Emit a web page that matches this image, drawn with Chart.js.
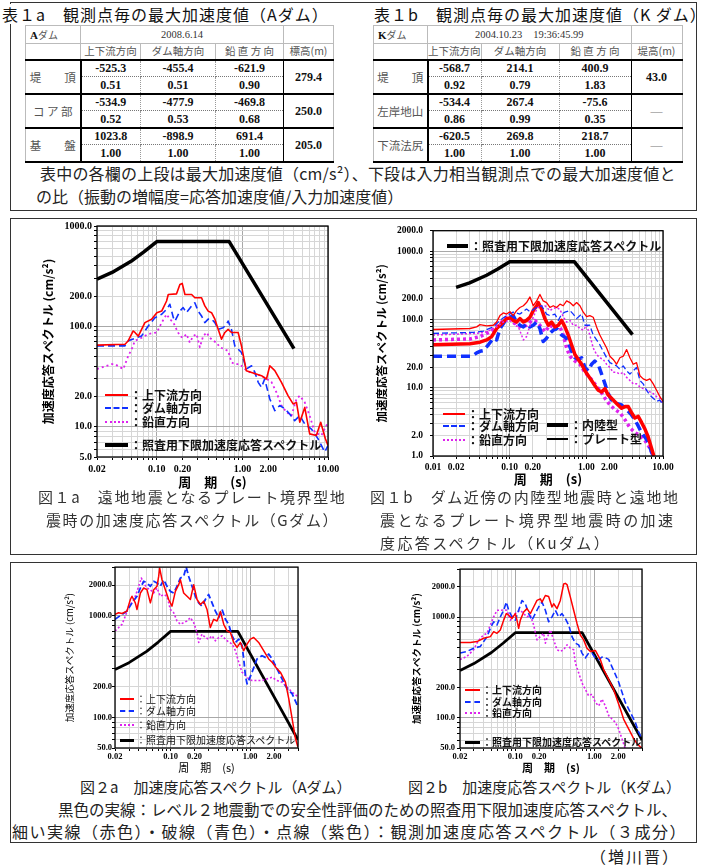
<!DOCTYPE html>
<html lang="ja">
<head>
<meta charset="utf-8">
<title>観測点毎の最大加速度値と加速度応答スペクトル</title>
<script src="https://cdn.jsdelivr.net/npm/chart.js@4.4.1/dist/chart.umd.min.js"></script>
<style>
  html, body { margin: 0; padding: 0; background: #fff; }
  #page { position: relative; width: 705px; height: 866px; overflow: hidden;
          font-family: "Noto Sans CJK JP", sans-serif; color: #222; }
  .abs { position: absolute; white-space: nowrap; }
  .box { position: absolute; border: 1.5px solid #333; box-sizing: border-box; }
  .ttl { background: #fff; font-size: 16px; line-height: 20px; color: #111; letter-spacing: 1px; padding-right: 3px; }
  .cap { font-size: 15px; line-height: 20px; color: #333; }
  canvas { position: absolute; }
  table.obs { position: absolute; border-collapse: collapse; table-layout: fixed; }
  table.obs td { padding: 0; text-align: center; vertical-align: middle; overflow: hidden; white-space: nowrap; }
  table.obs td.h { border: 1px solid #bbb; font-size: 10.5px; line-height: 14px; color: #555; }
  table.obs tr.hd2 td { border-bottom: 2px solid #000; }
  table.obs td.name { text-align: left; padding-left: 4px; font-size: 10px; }
  table.obs td.name b { font: bold 11px "Liberation Serif", serif; color: #111; }
  table.obs td.date { font: 10.5px "Liberation Serif", serif; color: #333; }
  table.obs td.lab { border-left: 1px solid #bbb; border-right: 2px solid #000; border-bottom: 2px solid #000;
                     font-size: 11.5px; color: #555; }
  table.obs td.num { font: bold 12px "Liberation Serif", serif; color: #111; line-height: 14px; }
  table.obs td.up { border-left: 1px dotted #999; border-right: 1px dotted #999; border-bottom: 1px dotted #777; }
  table.obs td.lo { border-left: 1px dotted #999; border-right: 1px dotted #999; border-bottom: 2px solid #000; }
  table.obs td.last { border-left: 1px solid #000; border-right: 1px solid #bbb; border-bottom: 2px solid #000; }
  table.obs td.dash { color: #777; font-weight: normal; }
</style>
</head>
<body>
<div id="page">
  <div class="box" style="left:10px;top:2px;width:687px;height:209px"></div>
  <div class="box" style="left:10px;top:218px;width:687px;height:337px"></div>
  <div class="box" style="left:10px;top:562px;width:687px;height:281px"></div>
  <canvas id="fig1a" width="320" height="277" style="left:30px;top:218px"></canvas>
  <canvas id="fig1b" width="310" height="277" style="left:370px;top:218px"></canvas>
  <canvas id="fig2a" width="280" height="212" style="left:40px;top:562px"></canvas>
  <canvas id="fig2b" width="280" height="212" style="left:385px;top:562px"></canvas>
</div>
<script>
// ---- 表1a / 表1b : 観測点毎の最大加速度値 ----
const compCols = ['上下流方向', 'ダム軸方向', '鉛 直 方 向'];

const tableARows = ['堤　　頂', 'コ ア 部', '基　　盤'];
const tableAPeak = [[-525.3, -455.4, -621.9], [-534.9, -477.9, -469.8], [1023.8, -898.9, 691.4]];
const tableARatio = [[0.51, 0.51, 0.90], [0.52, 0.53, 0.68], [1.00, 1.00, 1.00]];
const tableAElev = ['279.4', '250.0', '205.0'];

const tableBRows = ['堤　　頂', '左岸地山', '下流法尻'];
const tableBPeak = [[-568.7, 214.1, 400.9], [-534.4, 267.4, -75.6], [-620.5, 269.8, 218.7]];
const tableBRatio = [[0.92, 0.79, 1.83], [0.86, 0.99, 0.35], [1.00, 1.00, 1.00]];
const tableBHeight = ['43.0', '—', '—'];

// ---- 照査用下限加速度応答スペクトル (周期 s, cm/s2) ----
const lowerLimitT = [0.02, 0.03, 0.05, 0.07, 0.1, 0.7, 4.0];
const lowerLimitSa = [295, 345, 445, 550, 700, 700, 60];

// ---- 図1a Gダム [周期, 加速度応答] ----
const fig1aRed = [[0.02,65],[0.0425,66.5],[0.0464,72],[0.053,90],[0.0555,87],[0.0607,80],[0.0726,109],[0.0869,118],[0.1,137],[0.114,142],[0.13,179],[0.136,208],[0.17,211],[0.186,262],[0.198,268],[0.213,208],[0.255,208],[0.278,193],[0.333,193],[0.364,160],[0.398,142],[0.436,137],[0.477,118],[0.521,93.5],[0.57,74.5],[0.624,87],[0.681,93.5],[0.745,87],[0.891,87],[0.975,64],[1.11,36.2],[1.28,34.8],[1.67,32.3],[1.91,29.9],[2.09,40.5],[2.39,36.2],[2.86,27.7],[3.41,20.4],[3.91,16.9],[4.28,17.5],[4.68,11.1],[5.35,15.6],[6.11,8.5],[7.31,8.2],[8.22,11.1],[9.32,7.6],[10,6.5]];
const fig1aBlue = [[0.02,64],[0.0425,64],[0.0464,71.8],[0.0555,76],[0.0664,80.4],[0.0794,101],[0.095,122],[0.114,132],[0.13,148],[0.142,166],[0.156,122],[0.163,113],[0.186,142],[0.203,154],[0.222,137],[0.255,160],[0.278,172],[0.304,142],[0.333,127],[0.364,109],[0.398,118],[0.436,118],[0.477,109],[0.521,93.5],[0.596,97],[0.652,105],[0.681,113],[0.745,93.5],[0.815,64],[0.891,59.3],[0.975,55],[1.11,37.6],[1.28,40.5],[1.4,34.8],[1.53,27.7],[1.67,24.7],[1.82,29.9],[2.09,18.9],[2.39,14.5],[2.73,16.3],[3.13,15.1],[3.57,13.4],[4.08,11.5],[4.68,12.9],[5.35,10.7],[6.4,9.5],[7.65,7.6],[9.15,5.6],[10,6.5]];
const fig1aViolet = [[0.02,37.6],[0.0297,42],[0.0324,42],[0.0406,37.6],[0.0464,51],[0.0508,59],[0.0555,72],[0.0664,77],[0.0794,84],[0.1,87],[0.114,109],[0.13,132],[0.142,118],[0.156,109],[0.17,93.5],[0.186,80],[0.203,77],[0.222,84],[0.243,69],[0.266,80],[0.291,84],[0.318,62],[0.348,80],[0.381,87],[0.417,77],[0.455,72],[0.498,69],[0.545,62],[0.624,59],[0.681,57],[0.745,44],[0.815,42],[0.93,42],[1.07,37.6],[1.22,35],[1.46,33.5],[1.67,32],[1.91,30],[2.18,28],[2.5,22],[2.86,16.3],[3.27,14],[3.74,12.9],[4.28,18.9],[4.68,20.4],[5.35,17.5],[6.11,12.9],[7,8.8],[8.37,8.2],[10,11.1]];

// ---- 図1b Kuダム : プレート型 (細線) ----
const fig1bRedPlate = [[0.01,71.3],[0.0304,73.8],[0.0371,77.9],[0.041,84.1],[0.0501,80.5],[0.0612,82.3],[0.0676,91.8],[0.0747,114],[0.0826,125],[0.0913,120],[0.101,130],[0.111,114],[0.123,135],[0.136,150],[0.151,159],[0.166,177],[0.184,214],[0.203,159],[0.225,187],[0.248,233],[0.274,187],[0.303,177],[0.335,150],[0.37,159],[0.41,150],[0.453,168],[0.5,159],[0.553,187],[0.611,177],[0.675,159],[0.747,177],[0.825,159],[0.912,128],[1.008,110],[1.11,114],[1.23,108],[1.36,77.9],[1.5,59.2],[1.66,47.6],[1.84,38.2],[2.03,29],[2.24,26],[2.48,22.1],[2.74,27.5],[3.03,29],[3.35,36.2],[3.7,27.5],[4.09,22.1],[4.52,23.3],[5,15],[5.52,13.5],[6.1,12.8],[6.75,13.5],[7.46,11.4],[8.24,9.2],[9.11,7.4],[10,6.3]];
const fig1bBluePlate = [[0.01,62.6],[0.0336,64.7],[0.0453,67.6],[0.0612,77.9],[0.0747,97],[0.0913,114],[0.111,128],[0.136,120],[0.166,142],[0.184,130],[0.225,150],[0.261,159],[0.303,120],[0.335,114],[0.389,120],[0.431,97],[0.476,120],[0.526,128],[0.611,135],[0.675,120],[0.747,103],[0.868,120],[0.959,82.3],[1.11,82.3],[1.23,59.2],[1.36,50.2],[1.5,42.6],[1.66,34.2],[1.84,27.5],[2.03,23.3],[2.24,22.1],[2.48,20.9],[2.74,18.7],[3.03,20.9],[3.35,17.7],[3.7,15.9],[4.09,17.7],[4.52,19.8],[5,12.8],[5.52,11.4],[6.1,9.2],[6.75,7.8],[7.46,7],[8.24,6.3],[9.11,6.6],[10,5.6]];
const fig1bVioletPlate = [[0.01,59.2],[0.0371,62.6],[0.0501,66.1],[0.0676,77.9],[0.0826,91.8],[0.101,97],[0.117,82.3],[0.13,77.9],[0.151,50.2],[0.166,56.1],[0.184,82.3],[0.225,142],[0.248,159],[0.288,159],[0.335,135],[0.37,145],[0.41,150],[0.453,140],[0.5,110],[0.553,91.8],[0.611,97],[0.675,82.3],[0.747,82.3],[0.825,73.8],[0.912,69.8],[1.008,82.3],[1.11,59.2],[1.23,38.2],[1.36,30.7],[1.5,27.5],[1.66,26],[1.84,22.1],[2.03,19.8],[2.24,16.8],[2.48,16.8],[2.74,15.9],[3.03,16.8],[3.35,14.2],[3.7,12.8],[4.09,11.4],[4.52,11.4],[5,10.3],[5.52,9.7],[6.1,9.2],[6.75,8.7],[7.46,8.2],[8.24,7.4],[9.11,7],[10,5.9]];

// ---- 図1b Kuダム : 内陸型 (太線) ----
const fig1bRedInland = [[0.01,42.6],[0.0304,44.1],[0.041,46.5],[0.0501,50.2],[0.0582,56.1],[0.0676,73.8],[0.0747,82.3],[0.0826,91.8],[0.0913,103],[0.101,105],[0.111,97],[0.123,91.8],[0.136,103],[0.151,91.8],[0.166,97],[0.184,108],[0.203,135],[0.225,159],[0.236,177],[0.261,142],[0.288,103],[0.319,82.3],[0.352,91.8],[0.389,77.9],[0.431,82.3],[0.476,97],[0.526,77.9],[0.581,59.2],[0.642,42.6],[0.71,30.7],[0.785,26],[0.868,22.1],[0.959,17.7],[1.06,15],[1.17,12.8],[1.29,10.8],[1.43,9.2],[1.58,8.7],[1.75,9.7],[1.93,7.8],[2.13,7],[2.48,5.9],[2.88,5],[3.19,5.3],[3.52,5.3],[3.89,4.3],[4.3,3.6],[4.75,3.8],[5.25,3.1],[5.8,2.5],[6.41,1.9],[7.09,1.3],[7.6,1]];
const fig1bBlueInland = [[0.01,29],[0.0304,29],[0.0336,30],[0.0371,32.4],[0.041,34.2],[0.0453,35],[0.0527,42.6],[0.0612,53.1],[0.0676,50.2],[0.0747,73.8],[0.0826,86.9],[0.0913,103],[0.101,108],[0.111,114],[0.123,91.8],[0.136,82.3],[0.151,77.9],[0.166,86.9],[0.184,77.9],[0.203,82.3],[0.225,91.8],[0.248,73.8],[0.274,47.6],[0.303,53.1],[0.335,62.6],[0.37,69.8],[0.41,73.8],[0.476,59.2],[0.553,53.1],[0.642,34.2],[0.71,27.5],[0.785,26],[0.868,27.5],[0.959,19.8],[1.06,17.7],[1.17,22.1],[1.29,24.6],[1.43,22.1],[1.58,15.9],[1.75,11.4],[1.93,8.2],[2.13,6.6],[2.48,5.9],[2.88,5.6],[3.35,4.8],[3.89,4],[4.3,3.4],[4.75,2.75],[5.25,2.2],[5.8,1.9],[6.41,1.6],[7.09,1.14],[7.46,1]];
const fig1bVioletInland = [[0.01,50.2],[0.0304,51.9],[0.041,56.1],[0.0553,66.1],[0.0676,77.9],[0.0786,91.8],[0.0913,108],[0.106,103],[0.123,82.3],[0.143,77.9],[0.166,82.3],[0.184,91.8],[0.214,97],[0.248,82.3],[0.288,66.1],[0.335,82.3],[0.389,73.8],[0.453,77.9],[0.5,59.2],[0.553,38.2],[0.611,29],[0.71,24.6],[0.825,22.1],[0.959,16.8],[1.11,14.2],[1.29,11.4],[1.5,9.2],[1.75,7],[2.03,5.6],[2.36,4.8],[2.74,4.3],[3.19,3.4],[3.7,2.6],[4.3,2.2],[5,2],[5.8,1.7],[6.75,1.3],[7.46,1]];

// ---- 図2a Aダム ----
const fig2aRed = [[0.02,1029],[0.0222,1068],[0.0245,1050],[0.0283,1109],[0.0312,1441],[0.0327,1550],[0.036,1335],[0.0378,1150],[0.0417,1670],[0.0459,1868],[0.0505,1800],[0.0557,1335],[0.0613,1800],[0.0675,1944],[0.0708,2428],[0.0729,2933],[0.078,2253],[0.0859,1800],[0.0946,1441],[0.1042,1239],[0.1148,1733],[0.1264,2017],[0.1327,2253],[0.146,1670],[0.161,1550],[0.1773,1441],[0.1953,2017],[0.215,1441],[0.237,1286],[0.261,1388],[0.287,1150],[0.316,763],[0.348,920],[0.384,886],[0.423,1100],[0.466,822],[0.513,708],[0.565,682],[0.622,545],[0.685,488],[0.754,545],[0.831,452],[0.915,525],[1.008,588],[1.11,610],[1.28,545],[1.48,452],[1.71,375],[1.89,348],[2.18,300],[2.4,278],[2.78,222],[3.06,153],[3.37,97.6],[3.71,62.3],[3.98,51.5]];
const fig2aBlue = [[0.02,920],[0.0245,1029],[0.0283,1109],[0.0327,1335],[0.0378,1550],[0.0417,1868],[0.0459,2175],[0.0505,2090],[0.0557,1944],[0.0613,2175],[0.0675,2090],[0.0743,1944],[0.0819,2253],[0.0902,1944],[0.0993,1733],[0.1094,1670],[0.1205,1944],[0.1327,2344],[0.146,2428],[0.157,3000],[0.169,2428],[0.186,1944],[0.2049,1550],[0.2256,1335],[0.248,1239],[0.2735,1441],[0.301,1612],[0.332,1335],[0.366,1109],[0.403,955],[0.444,1150],[0.489,920],[0.538,822],[0.593,633],[0.653,545],[0.719,588],[0.792,506],[0.831,375],[0.872,258],[0.915,214],[0.96,230],[1.057,278],[1.22,375],[1.41,404],[1.556,389],[1.71,419],[1.89,375],[2.18,300],[2.52,239],[2.92,191],[3.37,171],[3.98,128]];
const fig2aViolet = [[0.02,708],[0.0222,763],[0.0245,822],[0.027,990],[0.0297,1239],[0.0327,1335],[0.036,1550],[0.0397,1944],[0.0429,2344],[0.0459,2090],[0.0505,1868],[0.0557,1800],[0.0613,1670],[0.0675,1868],[0.0743,1550],[0.0819,1612],[0.0902,1550],[0.0993,1150],[0.1094,1068],[0.1205,886],[0.1327,822],[0.146,853],[0.161,886],[0.1773,955],[0.1953,853],[0.215,682],[0.2256,545],[0.248,657],[0.2735,610],[0.301,588],[0.332,633],[0.366,566],[0.403,610],[0.444,633],[0.513,566],[0.593,525],[0.653,452],[0.719,348],[0.792,278],[0.872,258],[0.96,239],[1.057,230],[1.22,230],[1.41,230],[1.63,239],[1.89,248],[2.18,230],[2.52,222],[2.92,198],[3.37,177],[3.98,160]];

// ---- 図2b Kダム ----
const fig2bRed = [[0.02,558],[0.027,558],[0.0328,571],[0.0398,616],[0.0484,640],[0.0533,716],[0.0587,690],[0.0647,745],[0.0713,933],[0.077,1084],[0.0825,1044],[0.0908,968],[0.1001,1084],[0.105,933],[0.1103,773],[0.1158,933],[0.1276,1126],[0.1406,1215],[0.155,1084],[0.1708,1260],[0.188,1464],[0.2073,1520],[0.2177,1411],[0.24,1639],[0.264,1603],[0.291,1260],[0.3057,1358],[0.3368,1215],[0.371,1464],[0.409,2134],[0.429,2166],[0.451,2107],[0.497,1578],[0.547,1169],[0.603,866],[0.664,664],[0.732,594],[0.806,491],[0.889,456],[1.028,466],[1.189,378],[1.31,301],[1.443,259],[1.59,222],[1.75,191],[1.93,153],[2.13,122],[2.34,97],[2.58,83.5],[2.85,71.8],[3.14,61.8],[3.46,55.2],[4,49.3]];
const fig2bBlue = [[0.02,439],[0.0245,456],[0.0298,491],[0.0361,510],[0.0398,571],[0.0439,640],[0.0484,773],[0.0533,899],[0.0587,834],[0.0647,1006],[0.0713,1169],[0.077,1411],[0.0825,1169],[0.0908,1006],[0.1001,933],[0.1103,1169],[0.1216,1464],[0.134,1358],[0.1476,1084],[0.1626,933],[0.179,1084],[0.1975,1260],[0.2177,1411],[0.24,1169],[0.264,899],[0.291,1006],[0.3208,1169],[0.3535,1006],[0.3896,1084],[0.429,968],[0.473,834],[0.521,640],[0.574,551],[0.633,530],[0.697,439],[0.768,392],[0.847,439],[0.933,439],[1.028,392],[1.133,378],[1.248,400],[1.375,395],[1.516,380],[1.67,320],[1.84,270],[2.03,225],[2.23,180],[2.46,142],[2.85,113],[3.29,90],[3.63,71.8],[4,61.8]];
const fig2bViolet = [[0.02,378],[0.0245,407],[0.0298,474],[0.0328,551],[0.0361,616],[0.0398,664],[0.0439,690],[0.0484,834],[0.0533,1006],[0.0587,1169],[0.0647,1169],[0.0713,1180],[0.0786,1169],[0.0866,933],[0.0954,1044],[0.105,1126],[0.1158,1169],[0.1276,1084],[0.1406,1006],[0.155,1044],[0.1708,834],[0.188,594],[0.2073,640],[0.2284,690],[0.24,551],[0.2517,616],[0.2774,745],[0.3057,594],[0.3368,474],[0.371,456],[0.409,474],[0.451,530],[0.497,491],[0.547,474],[0.574,350],[0.633,279],[0.697,222],[0.768,191],[0.847,165],[0.933,171],[1.028,142],[1.133,131],[1.248,153],[1.375,131],[1.516,105],[1.67,97],[1.84,90],[2.03,77],[2.23,62],[2.46,49]];

// ---- labelled ticks ----
const fig1aXTicks = [0.02, 0.1, 0.2, 1, 2, 10];
const fig1aYTicks = [5, 10, 20, 100, 200, 1000];
const fig1bXTicks = [0.01, 0.02, 0.1, 0.2, 1, 2, 10];
const fig1bYTicks = [1, 2, 10, 20, 100, 200, 1000, 2000];
const fig2XTicks = [0.02, 0.1, 0.2, 1, 2];
const fig2YTicks = [50, 100, 200, 1000, 2000];

const compLabels = ['：上下流方向', '：ダム軸方向', '：鉛直方向'];
const limitLabel = '：照査用下限加速度応答スペクトル';

const page = document.getElementById('page');
const JP = '"Noto Sans CJK JP", sans-serif';
const SERIF = '"Liberation Serif", serif';
const RED = '#ff0000', BLUE = '#1030ff', VIOLET = '#dd22ee';

function put(str, x, y, css) {
  const d = document.createElement('div');
  d.className = 'abs';
  d.textContent = str;
  d.style.cssText += `left:${x}px;top:${y}px;` + (css || '');
  page.appendChild(d);
  return d;
}

function buildTable(o) {
  const t = document.createElement('table');
  t.className = 'obs';
  t.style.left = o.x + 'px';
  t.style.top = o.y + 'px';
  let h = '<colgroup>' + o.widths.map(w => `<col style="width:${w}px">`).join('') + '</colgroup>';
  h += `<tr style="height:18px"><td class="h name"><b>${o.dam[0]}</b>${o.dam.slice(1)}</td>` +
       `<td class="h date" colspan="3">${o.date}</td><td class="h"></td></tr>`;
  h += '<tr class="hd2" style="height:16px"><td class="h"></td>' +
       compCols.map(c => `<td class="h">${c}</td>`).join('') + `<td class="h">${o.lastHead}</td></tr>`;
  o.rows.forEach((r, i) => {
    const dash = o.last[i] === '—' ? ' dash' : '';
    h += `<tr style="height:17px"><td class="lab" rowspan="2">${r}</td>` +
         o.peak[i].map(v => `<td class="num up">${v.toFixed(1)}</td>`).join('') +
         `<td class="num last${dash}" rowspan="2">${o.last[i]}</td></tr>`;
    h += '<tr style="height:17px">' + o.ratio[i].map(v => `<td class="num lo">${v.toFixed(2)}</td>`).join('') + '</tr>';
  });
  t.innerHTML = h;
  page.appendChild(t);
}

buildTable({x: 25, y: 25, widths: [55, 60, 75, 68, 50], dam: 'Aダム', date: '2008.6.14',
  lastHead: '標高(m)', rows: tableARows, peak: tableAPeak, ratio: tableARatio, last: tableAElev});
buildTable({x: 373, y: 25, widths: [54, 50, 78, 72, 51], dam: 'Kダム', date: '2004.10.23　19:36:45.99',
  lastHead: '堤高(m)', rows: tableBRows, peak: tableBPeak, ratio: tableBRatio, last: tableBHeight});

put('表１a　観測点毎の最大加速度値（Aダム）', 0, 4, 'font-size:16px;line-height:20px;letter-spacing:1px;background:#fff;padding:0 3px 0 2px;color:#111');
put('表１b　観測点毎の最大加速度値（K ダム）', 374, 4, 'font-size:16px;line-height:20px;letter-spacing:1px;color:#111');
put('表中の各欄の上段は最大加速度値（cm/s²）、下段は入力相当観測点での最大加速度値と', 40, 163, 'font-size:16px;line-height:20px;color:#222;letter-spacing:0.2px');
put('の比（振動の増幅度=応答加速度値/入力加速度値）', 36, 186, 'font-size:16px;line-height:20px;color:#222');

const capCss = 'font-size:15px;line-height:20px;color:#333;letter-spacing:1.6px';
put('図１a　遠地地震となるプレート境界型地', 38, 487, capCss);
put('震時の加速度応答スペクトル（Gダム）', 46, 510, capCss);
put('図１b　ダム近傍の内陸型地震時と遠地地', 370, 487, capCss);
put('震となるプレート境界型地震時の加速', 380, 510, 'font-size:15px;line-height:20px;color:#333;letter-spacing:2.4px');
put('度応答スペクトル（Kuダム）', 380, 533, 'font-size:15px;line-height:20px;color:#333;letter-spacing:2.4px');

put('図２a　加速度応答スペクトル（Aダム）', 80, 777, 'font-size:15px;line-height:20px;color:#222');
put('図２b　加速度応答スペクトル（Kダム）', 408, 777, 'font-size:15px;line-height:20px;color:#222');
put('黒色の実線：レベル２地震動での安全性評価のための照査用下限加速度応答スペクトル、', 58, 799, 'font-size:15.5px;line-height:20px;color:#222');
put('細い実線（赤色）・破線（青色）・点線（紫色）：観測加速度応答スペクトル（３成分）', 12, 821, 'font-size:16px;line-height:20px;color:#222;letter-spacing:1.5px');
put('（増川晋）', 590, 846, 'font-size:16px;line-height:20px;color:#222;letter-spacing:2px');

// legend entry drawn as page text next to a short sample stroke
function legendRow(x1, x2, y, color, w, style, label, font) {
  const l = document.createElement('div');
  l.className = 'abs';
  l.style.cssText = `left:${x1}px;top:${Math.round(y - w / 2)}px;width:${x2 - x1}px;height:0;border-top:${w}px ${style} ${color};`;
  page.appendChild(l);
  put(label, x2 + 2, y - 8, `font:${font};line-height:16px;color:#111`);
}

const compStyles = [[RED, 'solid'], [BLUE, 'dashed'], [VIOLET, 'dotted']];
[395, 408, 422].forEach((y, i) => legendRow(105, 128, y, compStyles[i][0], 2, compStyles[i][1], compLabels[i], `bold 12px ${JP}`));
legendRow(105, 128, 445, '#000', 4, 'solid', limitLabel, `bold 12px ${JP}`);

legendRow(447, 468, 246, '#000', 4, 'solid', limitLabel, `bold 12px ${JP}`);
[414, 426, 440].forEach((y, i) => legendRow(443, 465, y, compStyles[i][0], 2, compStyles[i][1], compLabels[i], `bold 12px ${JP}`));
legendRow(547, 568, 425, '#000', 4, 'solid', '：内陸型', `bold 12px ${JP}`);
legendRow(547, 568, 439, '#000', 2, 'solid', '：プレート型', `bold 12px ${JP}`);

[699, 711, 725].forEach((y, i) => legendRow(120, 134, y, compStyles[i][0], 2, compStyles[i][1], compLabels[i], `10px ${JP}`));
legendRow(120, 134, 740, '#000', 3, 'solid', limitLabel, `10px ${JP}`);
[690, 702, 713].forEach((y, i) => legendRow(465, 480, y, compStyles[i][0], 2, compStyles[i][1], compLabels[i], `bold 10px ${JP}`));
legendRow(465, 480, 742, '#000', 3, 'solid', limitLabel, `bold 10px ${JP}`);

// ---- charts ----
function logTicks(min, max) {
  const out = [];
  for (let e = Math.floor(Math.log10(min)); e <= Math.ceil(Math.log10(max)); e++) {
    for (let m = 1; m < 10; m++) {
      const v = +(m * Math.pow(10, e)).toPrecision(6);
      if (v >= min * 0.999 && v <= max * 1.001) out.push({value: v});
    }
  }
  return out;
}
const isDecade = v => Math.abs(Math.log10(v) - Math.round(Math.log10(v))) < 1e-6;
const labelFor = (v, list, dec) => list.some(t => Math.abs(t - v) / t < 1e-6) ? v.toFixed(dec) : '';
const gridColor = c => (c.tick && isDecade(c.tick.value)) ? '#a8a8a8' : '#d6d6d6';

const framePlugin = {
  id: 'frame',
  afterDraw(chart) {
    const {ctx, chartArea: a} = chart;
    ctx.save();
    ctx.strokeStyle = '#000';
    ctx.lineWidth = 1.3;
    ctx.strokeRect(a.left, a.top, a.right - a.left, a.bottom - a.top);
    ctx.restore();
  }
};

const pts = arr => arr.map(([x, y]) => ({x, y}));
const lowerLimit = lowerLimitT.map((t, i) => [t, lowerLimitSa[i]]);

function spectrumChart(id, o) {
  return new Chart(document.getElementById(id), {
    type: 'scatter',
    data: {
      datasets: o.series.map(s => ({
        data: pts(s.data), showLine: true, pointRadius: 0, tension: 0, fill: false,
        borderColor: s.color, borderWidth: s.width, borderDash: s.dash || [],
        borderCapStyle: 'butt', borderJoinStyle: 'round'
      }))
    },
    options: {
      responsive: false, animation: false, devicePixelRatio: 1,
      layout: {padding: o.pad},
      plugins: {legend: {display: false}, tooltip: {enabled: false}},
      scales: {
        x: {
          type: 'logarithmic', min: o.xMin, max: o.xMax,
          afterBuildTicks: s => { s.ticks = logTicks(o.xMin, o.xMax); },
          afterFit: s => { s.height = o.xH; },
          border: {display: false},
          grid: {color: gridColor, tickLength: 3, tickColor: '#000'},
          ticks: {autoSkip: false, maxRotation: 0, padding: o.xTickPad, color: '#000',
                  font: o.tickFont, callback: v => labelFor(v, o.xLabels, 2)},
          title: {display: true, text: '周　期　(s)', color: '#000', font: o.xTitleFont,
                  padding: {top: 0, bottom: o.xTitlePad}}
        },
        y: {
          type: 'logarithmic', min: o.yMin, max: o.yMax,
          afterBuildTicks: s => { s.ticks = logTicks(o.yMin, o.yMax); },
          afterFit: s => { s.width = o.yW; },
          border: {display: false},
          grid: {color: gridColor, tickLength: 3, tickColor: '#000'},
          ticks: {autoSkip: false, padding: o.yTickPad, color: '#000',
                  font: o.tickFont, callback: v => labelFor(v, o.yLabels, 1)},
          title: {display: true, text: '加速度応答スペクトル (cm/s²)', color: '#000', font: o.yTitleFont,
                  padding: {top: o.yTitlePad, bottom: 0}}
        }
      }
    },
    plugins: [framePlugin]
  });
}

spectrumChart('fig1a', {
  xMin: 0.02, xMax: 10, yMin: 5, yMax: 1000, xLabels: fig1aXTicks, yLabels: fig1aYTicks,
  pad: {left: 0, top: 7, right: 22, bottom: 0}, xH: 38, yW: 67,
  tickFont: {family: SERIF, size: 10, weight: 'bold'}, xTickPad: 3, yTickPad: 2,
  xTitleFont: {family: JP, size: 13, weight: 'bold'}, xTitlePad: 5,
  yTitleFont: {family: JP, size: 12, weight: 'bold'}, yTitlePad: 11,
  series: [
    {data: fig1aRed, color: RED, width: 1.6},
    {data: fig1aBlue, color: BLUE, width: 1.6, dash: [7, 4]},
    {data: fig1aViolet, color: VIOLET, width: 1.8, dash: [2, 3]},
    {data: lowerLimit, color: '#000', width: 3.5}
  ]
});

spectrumChart('fig1b', {
  xMin: 0.01, xMax: 10, yMin: 1, yMax: 2000, xLabels: fig1bXTicks, yLabels: fig1bYTicks,
  pad: {left: 0, top: 7, right: 17, bottom: 0}, xH: 39, yW: 63,
  tickFont: {family: SERIF, size: 9.5, weight: 'bold'}, xTickPad: 3, yTickPad: 7,
  xTitleFont: {family: JP, size: 13, weight: 'bold'}, xTitlePad: 8,
  yTitleFont: {family: JP, size: 11.5, weight: 'bold'}, yTitlePad: 5,
  series: [
    {data: fig1bRedPlate, color: RED, width: 1.3},
    {data: fig1bBluePlate, color: BLUE, width: 1.3, dash: [6, 3]},
    {data: fig1bVioletPlate, color: VIOLET, width: 1.5, dash: [2, 2]},
    {data: fig1bRedInland, color: RED, width: 3.5},
    {data: fig1bBlueInland, color: BLUE, width: 3.5, dash: [9, 5]},
    {data: fig1bVioletInland, color: VIOLET, width: 3.5, dash: [3, 3]},
    {data: lowerLimit, color: '#000', width: 3.5}
  ]
});

const fig2Common = {
  xMin: 0.02, xMax: 4, yMin: 50, yMax: 3000, xLabels: fig2XTicks, yLabels: fig2YTicks,
  xH: 26, yW: 75, tickFont: {family: SERIF, size: 8.5, weight: 'bold'}, xTickPad: 1,
  xTitlePad: 0
};

spectrumChart('fig2a', Object.assign({}, fig2Common, {
  pad: {left: 0, top: 4, right: 22, bottom: 0}, yTickPad: 0,
  xTitleFont: {family: JP, size: 11}, yTitleFont: {family: JP, size: 9.5}, yTitlePad: 24,
  series: [
    {data: fig2aRed, color: RED, width: 1.5},
    {data: fig2aBlue, color: BLUE, width: 1.8, dash: [6, 3]},
    {data: fig2aViolet, color: VIOLET, width: 1.6, dash: [2, 2]},
    {data: lowerLimit, color: '#000', width: 2.8}
  ]
}));

spectrumChart('fig2b', Object.assign({}, fig2Common, {
  pad: {left: 0, top: 5, right: 23, bottom: 0}, yTickPad: 2,
  xTitleFont: {family: JP, size: 11, weight: 'bold'}, yTitleFont: {family: JP, size: 9.5, weight: 'bold'}, yTitlePad: 26,
  series: [
    {data: fig2bRed, color: RED, width: 1.5},
    {data: fig2bBlue, color: BLUE, width: 1.6, dash: [6, 3]},
    {data: fig2bViolet, color: VIOLET, width: 1.6, dash: [2, 2]},
    {data: lowerLimit, color: '#000', width: 2.8}
  ]
}));
</script>
</body>
</html>
